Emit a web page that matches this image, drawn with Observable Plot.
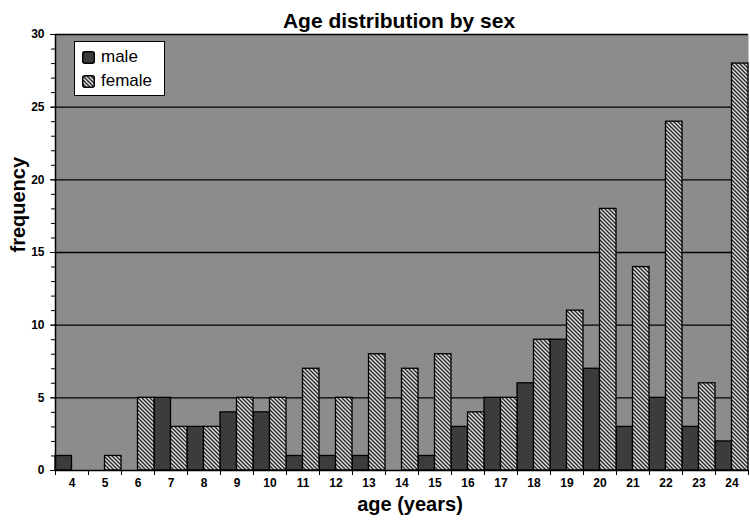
<!DOCTYPE html>
<html>
<head>
<meta charset="utf-8">
<script src="https://cdn.jsdelivr.net/npm/d3@7"></script>
<script src="https://cdn.jsdelivr.net/npm/@observablehq/plot@0.6"></script>
<style>
  html, body { margin: 0; padding: 0; background: #fff; }
  #wrap { position: relative; width: 750px; height: 522px; font-family: "Liberation Sans", Arial, sans-serif; }
  #legend { position: absolute; left: 74px; top: 41px; width: 89px; height: 53px; background: #fff; border: 1px solid #000; }
  .row { position: absolute; left: 7px; display: flex; align-items: center; font-size: 17px; color: #000; }
  .row svg { margin-right: 6px; }
</style>
</head>
<body>
<div id="wrap">
  <div id="chart"></div>
  <div id="legend">
    <div class="row" style="top:5px"><svg width="13" height="13"><rect x="0.75" y="0.75" width="11.5" height="11.5" rx="2" fill="#3c3c3c" stroke="#000" stroke-width="1.5"/></svg><span>male</span></div>
    <div class="row" style="top:29px"><svg width="13" height="13"><defs><pattern id="hatchL" patternUnits="userSpaceOnUse" width="4" height="4"><rect width="4" height="4" fill="#e0e0e0"/><path d="M-1,3 l2,2 M0,0 l4,4 M3,-1 l2,2" stroke="#2a2a2a" stroke-width="1.4"/></pattern></defs><rect x="0.75" y="0.75" width="11.5" height="11.5" rx="2" fill="url(#hatchL)" stroke="#000" stroke-width="1.5"/></svg><span>female</span></div>
  </div>
</div>
<script>
const ages   = [4, 5, 6, 7, 8, 9, 10, 11, 12, 13, 14, 15, 16, 17, 18, 19, 20, 21, 22, 23, 24];
const male   = [1, 0, 0, 5, 3, 4, 4, 1, 1, 1, 0, 1, 3, 5, 6, 9, 7, 3, 5, 3, 2];
const female = [0, 1, 5, 3, 3, 5, 5, 7, 5, 8, 7, 8, 4, 5, 9, 11, 18, 14, 24, 6, 28];
const yMajorTicks = [0, 5, 10, 15, 20, 25, 30];

const rows = ages.map((a, i) => ({age: a, male: male[i], female: female[i]}));
const maleRows = rows.filter(d => d.male > 0);
const femaleRows = rows.filter(d => d.female > 0);
const font = "Liberation Sans, Arial, sans-serif";

const chart = Plot.plot({
  width: 750,
  height: 522,
  marginLeft: 55,
  marginRight: 2,
  marginTop: 34,
  marginBottom: 52,
  style: {fontFamily: font, color: "#000", background: "#fff", overflow: "visible"},
  x: {domain: [ages[0] - 0.5, ages[ages.length - 1] + 0.5], axis: null},
  y: {domain: [0, 30], axis: null},
  marks: [
    Plot.frame({fill: "#8c8c8c", stroke: "none"}),
    Plot.gridY({ticks: yMajorTicks.slice(1), stroke: "#000", strokeOpacity: 1, strokeWidth: 1.4}),
    Plot.rectY(maleRows, {x1: d => d.age - 0.5, x2: d => d.age, y: "male", fill: "#3c3c3c", stroke: "#000", strokeWidth: 1.3}),
    Plot.rectY(femaleRows, {x1: d => d.age, x2: d => d.age + 0.5, y: "female", fill: "url(#hatch)", stroke: "#000", strokeWidth: 1.3}),
    Plot.ruleY([0], {stroke: "#000", strokeWidth: 1.5}),
    Plot.ruleX([ages[0] - 0.5], {stroke: "#000", strokeWidth: 1.5}),
    Plot.axisY({ticks: d3.range(0, 31, 1), tickSize: 4, tickFormat: () => "", stroke: "#000"}),
    Plot.axisY({ticks: yMajorTicks, tickSize: 5, tickPadding: 6, fontSize: 12, fontWeight: "bold", stroke: "#000", fill: "#000", label: null}),
    Plot.axisX({ticks: d3.range(ages[0] - 0.5, ages[ages.length - 1] + 1, 1), tickSize: 5, tickFormat: () => "", stroke: "#000", label: null}),
    Plot.axisX({ticks: ages, tickSize: 0, tickPadding: 8, fontSize: 12, fontWeight: "bold", fill: "#000", label: null}),
    Plot.text(["Age distribution by sex"], {frameAnchor: "top", dx: -3, dy: -21, fontSize: 21, fontWeight: "bold", fill: "#000"}),
    Plot.text(["age (years)"], {frameAnchor: "bottom", dx: 8, dy: 40, fontSize: 20, fontWeight: "bold", fill: "#000"}),
    Plot.text(["frequency"], {frameAnchor: "left", dx: -37, rotate: -90, fontSize: 20, fontWeight: "bold", fill: "#000"})
  ]
});

const svg = d3.select(chart);
const defs = svg.insert("defs", ":first-child");
const pat = defs.append("pattern").attr("id", "hatch").attr("patternUnits", "userSpaceOnUse").attr("width", 4).attr("height", 4);
pat.append("rect").attr("width", 4).attr("height", 4).attr("fill", "#e0e0e0");
pat.append("path").attr("d", "M-1,3 l2,2 M0,0 l4,4 M3,-1 l2,2").attr("stroke", "#2a2a2a").attr("stroke-width", 1.4);

document.getElementById("chart").appendChild(chart);
</script>
</body>
</html>
